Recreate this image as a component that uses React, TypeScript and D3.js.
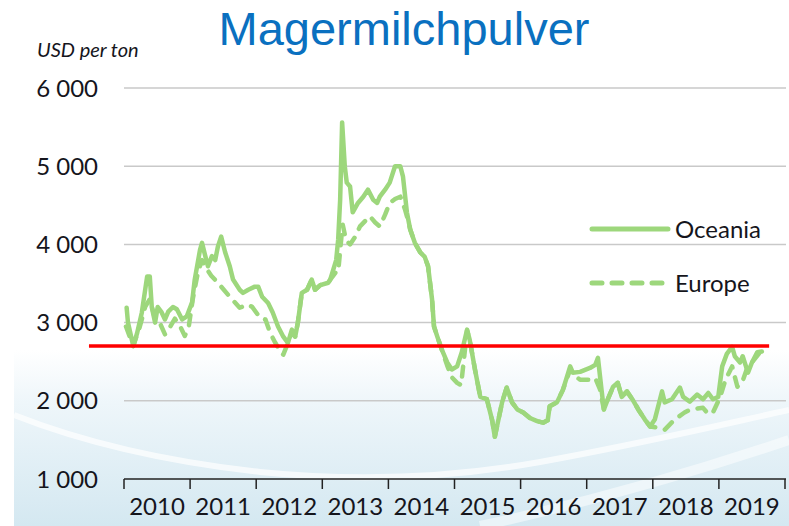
import React from "react";
import * as d3 from "d3";

const W = 789;
const H = 526;

const title = "Magermilchpulver";
const unitLabel = "USD per ton";
const yTicks = [1000, 2000, 3000, 4000, 5000, 6000];
const years = [2010, 2011, 2012, 2013, 2014, 2015, 2016, 2017, 2018, 2019];
const seriesNames = ["Oceania", "Europe"];

const oceaniaT = [
  2010.04, 2010.06, 2010.14, 2010.2, 2010.27, 2010.35, 2010.39, 2010.42, 2010.47, 2010.51,
  2010.57, 2010.62, 2010.67, 2010.74, 2010.8, 2010.88, 2010.95, 2011.03, 2011.07, 2011.15,
  2011.18, 2011.23, 2011.27, 2011.33, 2011.38, 2011.42, 2011.47, 2011.53, 2011.6, 2011.65,
  2011.75, 2011.8, 2011.88, 2011.98, 2012.03, 2012.09, 2012.18, 2012.25, 2012.33, 2012.41,
  2012.48, 2012.54, 2012.59, 2012.63, 2012.69, 2012.77, 2012.84, 2012.89, 2012.97, 2013.09,
  2013.12, 2013.21, 2013.24, 2013.27, 2013.3, 2013.34, 2013.37, 2013.42, 2013.46, 2013.54,
  2013.62, 2013.69, 2013.77, 2013.83, 2013.87, 2013.95, 2014.02, 2014.1, 2014.18, 2014.22,
  2014.28, 2014.33, 2014.4, 2014.48, 2014.55, 2014.6, 2014.66, 2014.69, 2014.74, 2014.81,
  2014.89, 2014.96, 2015.04, 2015.11, 2015.19, 2015.23, 2015.31, 2015.39, 2015.49, 2015.57,
  2015.61, 2015.72, 2015.79, 2015.87, 2015.95, 2016.04, 2016.14, 2016.25, 2016.34, 2016.41,
  2016.44, 2016.55, 2016.64, 2016.75, 2016.79, 2016.9, 2017.05, 2017.13, 2017.17, 2017.23,
  2017.26, 2017.32, 2017.4, 2017.47, 2017.53, 2017.61, 2017.69, 2017.78, 2017.88, 2017.96,
  2018.03, 2018.14, 2018.18, 2018.29, 2018.41, 2018.46, 2018.56, 2018.67, 2018.76, 2018.84,
  2018.91, 2018.99, 2019.05, 2019.12, 2019.2, 2019.24, 2019.32, 2019.36, 2019.44, 2019.5,
  2019.58, 2019.65,
];
const oceaniaV = [
  3190, 3000, 2700, 2870, 3130, 3590, 3590, 3200, 3000, 3200,
  3130, 3040, 3140, 3200, 3170, 3040, 3080, 3260, 3550, 3930,
  4020, 3850, 3720, 3850, 3800, 3970, 4100, 3900, 3720, 3550,
  3420, 3380, 3420, 3460, 3460, 3330, 3250, 3130, 2950, 2820,
  2740, 2910, 2820, 3000, 3380, 3420, 3550, 3420, 3480, 3510,
  3550, 3800, 4060, 4570, 5560, 5000, 4790, 4740, 4410, 4530,
  4610, 4700, 4570, 4530, 4610, 4700, 4790, 5000, 5000, 4870,
  4410, 4190, 4020, 3900, 3840, 3720, 3300, 2950, 2820, 2650,
  2490, 2400, 2440, 2620, 2910, 2780, 2400, 2050, 2020, 1750,
  1540, 1980, 2170, 1980, 1890, 1850, 1780, 1740, 1720, 1750,
  1930, 1980, 2140, 2440, 2360, 2370, 2420, 2460, 2550, 2100,
  1890, 2020, 2180, 2230, 2050, 2120, 2020, 1890, 1760, 1670,
  1760, 2120, 1980, 2020, 2170, 2050, 1990, 2080, 2020, 2100,
  2020, 2050, 2440, 2600, 2690, 2570, 2490, 2570, 2360, 2490,
  2620, 2630,
];

const europeT = [
  2010.03, 2010.14, 2010.24, 2010.32, 2010.39, 2010.47, 2010.54, 2010.62, 2010.7, 2010.77,
  2010.85, 2010.92, 2010.98, 2011.04, 2011.12, 2011.18, 2011.24, 2011.32, 2011.42, 2011.6,
  2011.75, 2011.88, 2011.94, 2012.06, 2012.14, 2012.21, 2012.29, 2012.37, 2012.41, 2012.48,
  2012.54, 2012.59, 2012.63, 2012.69, 2012.77, 2012.84, 2012.89, 2012.97, 2013.09, 2013.12,
  2013.21, 2013.24, 2013.29, 2013.31, 2013.36, 2013.42, 2013.5, 2013.57, 2013.65, 2013.72,
  2013.8, 2013.87, 2013.95, 2014.02, 2014.1, 2014.18, 2014.25, 2014.3, 2014.33, 2014.4,
  2014.48, 2014.55, 2014.6, 2014.66, 2014.69, 2014.74, 2014.81, 2014.89, 2014.96, 2015.04,
  2015.1, 2015.19, 2015.23, 2015.31, 2015.39, 2015.49, 2015.57, 2015.61, 2015.72, 2015.79,
  2015.87, 2015.95, 2016.04, 2016.14, 2016.25, 2016.34, 2016.41, 2016.44, 2016.55, 2016.64,
  2016.75, 2016.79, 2016.9, 2017.05, 2017.13, 2017.2, 2017.26, 2017.32, 2017.4, 2017.47,
  2017.53, 2017.61, 2017.69, 2017.78, 2017.88, 2017.96, 2018.06, 2018.18, 2018.33, 2018.48,
  2018.57, 2018.76, 2018.84, 2018.91, 2019.02, 2019.1, 2019.2, 2019.28, 2019.35, 2019.42,
  2019.5, 2019.62,
];
const europeV = [
  2950, 2700, 2950, 3200, 3300, 3050, 3000, 2850, 2950, 3050,
  2950, 2830, 2950, 3300, 3650, 3800, 3700, 3600, 3510, 3330,
  3190, 3230, 3200, 3060, 3040, 2870, 2740, 2620, 2590, 2740,
  2880, 2820, 3000, 3380, 3420, 3550, 3420, 3480, 3510, 3550,
  3650, 3650, 4100, 4250, 4050, 4000, 4100, 4230, 4300, 4360,
  4280, 4230, 4380, 4530, 4580, 4610, 4450, 4300, 4190, 4020,
  3900, 3840, 3720, 3300, 2950, 2820, 2650, 2450, 2300, 2230,
  2200, 2900, 2780, 2400, 2050, 2020, 1750, 1540, 1980, 2170,
  1980, 1890, 1850, 1780, 1740, 1720, 1750, 1930, 1980, 2140,
  2400, 2340, 2270, 2270, 2290, 2150, 1890, 2020, 2180, 2230,
  2050, 2120, 2020, 1890, 1760, 1670, 1660, 1630, 1760, 1850,
  1890, 1910, 1830, 1850, 2050, 2270, 2440, 2180, 2230, 2400,
  2490, 2620,
];

const refValue = 2700;
const refFrom = 2009.47;
const refTo = 2019.76;

const fmt = (v: number) => d3.format(",")(v).replace(/,/g, "\u00a0");

export default function App() {
  const left = 124;
  const right = 785;
  const top = 88;
  const bottom = 479;

  const x = d3.scaleLinear().domain([2010, 2020]).range([left, right]);
  const y = d3.scaleLinear().domain([1000, 6000]).range([bottom, top]);

  const line = d3
    .line<[number, number]>()
    .x((d) => x(d[0]))
    .y((d) => y(d[1]))
    .curve(d3.curveLinear);

  const oceania = oceaniaT.map((t, i) => [t, oceaniaV[i]] as [number, number]);
  const europe = europeT.map((t, i) => [t, europeV[i]] as [number, number]);

  const green = "#9dd77c";
  const textColor = "#15151c";
  const font = "Lato, 'Open Sans', sans-serif";

  return (
    <svg
      width={W}
      height={H}
      style={{ position: "absolute", left: 0, top: 0, background: "#fff" }}
    >
      <defs>
        <linearGradient id="bg" x1="0" y1="0" x2="0" y2="1">
          <stop offset="0" stopColor="#ffffff" />
          <stop offset="0.3" stopColor="#eef6fa" />
          <stop offset="1" stopColor="#d4e8f1" />
        </linearGradient>
      </defs>
      <rect x={14} y={350} width={W - 14} height={H - 350} fill="url(#bg)" />
      <path
        d="M14,415 C90,445 170,462 260,472 C360,482 450,478 540,462 C640,444 720,425 789,410"
        stroke="#ffffff"
        strokeWidth={6}
        fill="none"
        opacity={0.7}
      />
      <path
        d="M480,526 C600,500 700,470 789,440"
        stroke="#ffffff"
        strokeWidth={10}
        fill="none"
        opacity={0.5}
      />

      {yTicks.slice(1).map((v) => (
        <line
          key={v}
          x1={left}
          x2={right + 1}
          y1={y(v)}
          y2={y(v)}
          stroke="#c9c9c9"
          strokeWidth={1.5}
        />
      ))}

      {yTicks.map((v) => (
        <text
          key={v}
          x={98}
          y={y(v)}
          dy="0.36em"
          textAnchor="end"
          fontFamily={font}
          fontSize={24}
          fill={textColor}
        >
          {fmt(v)}
        </text>
      ))}

      <line x1={left} x2={right + 1} y1={bottom} y2={bottom} stroke="#222" strokeWidth={1.5} />
      {[...years, 2020].map((yr) => (
        <line key={yr} x1={x(yr)} x2={x(yr)} y1={bottom} y2={bottom + 10} stroke="#222" strokeWidth={1.5} />
      ))}
      {years.map((yr) => (
        <text
          key={yr}
          x={x(yr + 0.5)}
          y={515}
          textAnchor="middle"
          fontFamily={font}
          fontSize={24}
          fill={textColor}
        >
          {yr}
        </text>
      ))}

      <path
        d={line(europe) || ""}
        fill="none"
        stroke={green}
        strokeWidth={4.5}
        strokeDasharray="10 10"
        strokeLinecap="round"
        strokeLinejoin="round"
      />
      <path
        d={line(oceania) || ""}
        fill="none"
        stroke={green}
        strokeWidth={4.5}
        strokeLinejoin="round"
        strokeLinecap="round"
      />

      <line
        x1={x(refFrom)}
        x2={x(refTo)}
        y1={y(refValue)}
        y2={y(refValue)}
        stroke="#ff0000"
        strokeWidth={3.5}
      />

      <g>
        <line x1={592} x2={668} y1={229} y2={229} stroke={green} strokeWidth={5} strokeLinecap="round" />
        <text x={675} y={229} dy="0.36em" fontFamily={font} fontSize={24} fill={textColor}>
          {seriesNames[0]}
        </text>
        <line
          x1={592}
          x2={668}
          y1={283}
          y2={283}
          stroke={green}
          strokeWidth={5}
          strokeLinecap="round"
          strokeDasharray="10 10"
        />
        <text x={675} y={283} dy="0.36em" fontFamily={font} fontSize={24} fill={textColor}>
          {seriesNames[1]}
        </text>
      </g>

      <text x={37} y={57} fontFamily={font} fontStyle="italic" fontSize={20} fill={textColor}>
        {unitLabel}
      </text>
      <text
        x={404}
        y={45}
        textAnchor="middle"
        fontFamily="'Liberation Sans', Arial, sans-serif"
        fontSize={47}
        fill="#0a70c0"
      >
        {title}
      </text>
    </svg>
  );
}
